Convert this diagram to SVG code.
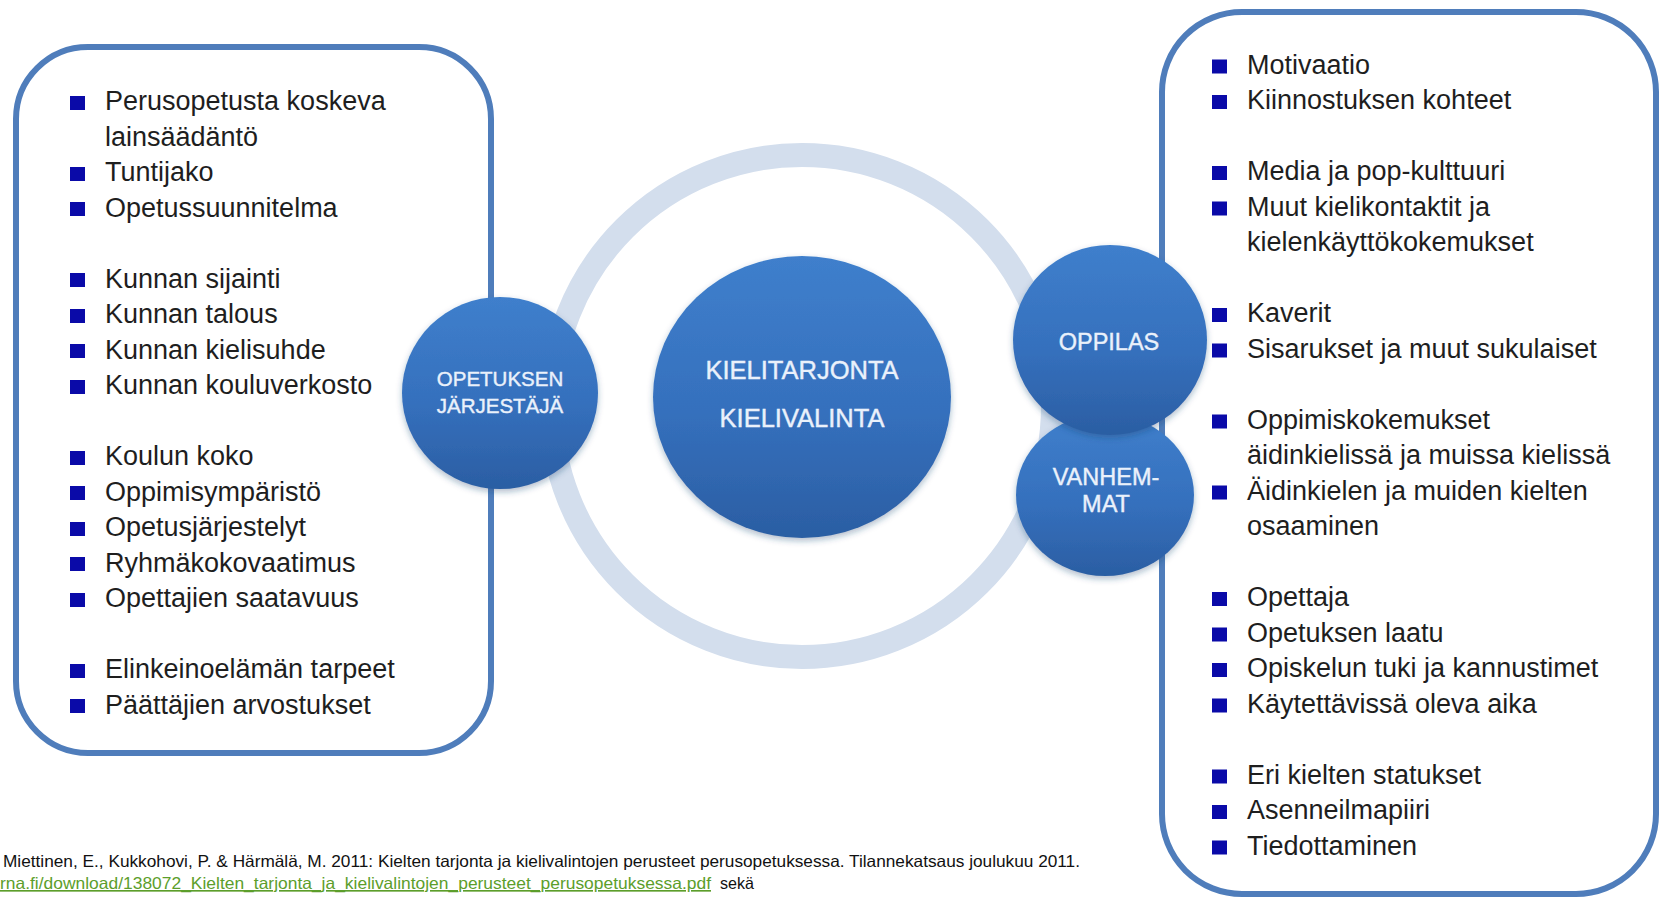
<svg xmlns="http://www.w3.org/2000/svg" width="1660" height="897" viewBox="0 0 1660 897">
<defs>
<linearGradient id="blueFill" x1="0" y1="0" x2="0" y2="1">
<stop offset="0" stop-color="#3f7fcc"/>
<stop offset="0.55" stop-color="#3570bd"/>
<stop offset="1" stop-color="#2b5ea3"/>
</linearGradient>
<filter id="shadow" x="-20%" y="-20%" width="140%" height="145%">
<feDropShadow dx="0" dy="3" stdDeviation="3" flood-color="#1f3f6e" flood-opacity="0.35"/>
</filter>
<style>
.box{fill:#ffffff;stroke:#4f7dbb;stroke-width:6}
.ring{fill:none;stroke:#d3deed;stroke-width:24}
.circ{fill:url(#blueFill);filter:url(#shadow)}
.ctext{font-family:"Liberation Sans",Arial,sans-serif;fill:#eaf1fb;stroke:#eaf1fb;stroke-width:0.4;text-anchor:middle}
.item{font-family:"Liberation Sans",Arial,sans-serif;font-size:27px;fill:#1e1e1e}
.bul{fill:#0a0aa8}
.foot{font-family:"Liberation Sans",Arial,sans-serif;font-size:16.5px;fill:#111111}
.link{font-family:"Liberation Sans",Arial,sans-serif;font-size:16.5px;fill:#5c9e2b;text-decoration:underline}
</style>
</defs>
<rect width="1660" height="897" fill="#ffffff"/>

<g id="connectors">
<circle class="ring" cx="802" cy="406" r="251"/>
</g>

<g id="left-box">
<rect class="box" x="16" y="47" width="475" height="706" rx="72" ry="72"/>
<g class="bul">
<rect x="70" y="96" width="15" height="14"/>
<rect x="70" y="167" width="15" height="14"/>
<rect x="70" y="202" width="15" height="14"/>
<rect x="70" y="273" width="15" height="14"/>
<rect x="70" y="309" width="15" height="14"/>
<rect x="70" y="344" width="15" height="14"/>
<rect x="70" y="380" width="15" height="14"/>
<rect x="70" y="451" width="15" height="14"/>
<rect x="70" y="486" width="15" height="14"/>
<rect x="70" y="522" width="15" height="14"/>
<rect x="70" y="557" width="15" height="14"/>
<rect x="70" y="593" width="15" height="14"/>
<rect x="70" y="664" width="15" height="14"/>
<rect x="70" y="699" width="15" height="14"/>
</g>
<text class="item" x="105" y="110">Perusopetusta koskeva</text>
<text class="item" x="105" y="145.5">lainsäädäntö</text>
<text class="item" x="105" y="181">Tuntijako</text>
<text class="item" x="105" y="216.5">Opetussuunnitelma</text>
<text class="item" x="105" y="287.5">Kunnan sijainti</text>
<text class="item" x="105" y="323">Kunnan talous</text>
<text class="item" x="105" y="358.5">Kunnan kielisuhde</text>
<text class="item" x="105" y="394">Kunnan kouluverkosto</text>
<text class="item" x="105" y="465">Koulun koko</text>
<text class="item" x="105" y="500.5">Oppimisympäristö</text>
<text class="item" x="105" y="536">Opetusjärjestelyt</text>
<text class="item" x="105" y="571.5">Ryhmäkokovaatimus</text>
<text class="item" x="105" y="607">Opettajien saatavuus</text>
<text class="item" x="105" y="678">Elinkeinoelämän tarpeet</text>
<text class="item" x="105" y="713.5">Päättäjien arvostukset</text>
</g>

<g id="right-box">
<rect class="box" x="1162" y="12" width="494" height="882" rx="80" ry="80"/>
<g class="bul">
<rect x="1212" y="59.5" width="15" height="14"/>
<rect x="1212" y="95" width="15" height="14"/>
<rect x="1212" y="166" width="15" height="14"/>
<rect x="1212" y="201.5" width="15" height="14"/>
<rect x="1212" y="308" width="15" height="14"/>
<rect x="1212" y="343.5" width="15" height="14"/>
<rect x="1212" y="414.5" width="15" height="14"/>
<rect x="1212" y="485.5" width="15" height="14"/>
<rect x="1212" y="592" width="15" height="14"/>
<rect x="1212" y="627.5" width="15" height="14"/>
<rect x="1212" y="663" width="15" height="14"/>
<rect x="1212" y="698.5" width="15" height="14"/>
<rect x="1212" y="769.5" width="15" height="14"/>
<rect x="1212" y="805" width="15" height="14"/>
<rect x="1212" y="840.5" width="15" height="14"/>
</g>
<text class="item" x="1247" y="73.5">Motivaatio</text>
<text class="item" x="1247" y="109">Kiinnostuksen kohteet</text>
<text class="item" x="1247" y="180">Media ja pop-kulttuuri</text>
<text class="item" x="1247" y="215.5">Muut kielikontaktit ja</text>
<text class="item" x="1247" y="251">kielenkäyttökokemukset</text>
<text class="item" x="1247" y="322">Kaverit</text>
<text class="item" x="1247" y="357.5">Sisarukset ja muut sukulaiset</text>
<text class="item" x="1247" y="428.5">Oppimiskokemukset</text>
<text class="item" x="1247" y="464">äidinkielissä ja muissa kielissä</text>
<text class="item" x="1247" y="499.5">Äidinkielen ja muiden kielten</text>
<text class="item" x="1247" y="535">osaaminen</text>
<text class="item" x="1247" y="606">Opettaja</text>
<text class="item" x="1247" y="641.5">Opetuksen laatu</text>
<text class="item" x="1247" y="677">Opiskelun tuki ja kannustimet</text>
<text class="item" x="1247" y="712.5">Käytettävissä oleva aika</text>
<text class="item" x="1247" y="783.5">Eri kielten statukset</text>
<text class="item" x="1247" y="819">Asenneilmapiiri</text>
<text class="item" x="1247" y="854.5">Tiedottaminen</text>
</g>

<g id="node-opetuksen-jarjestaja">
<ellipse class="circ" cx="500" cy="393" rx="98" ry="96"/>
<text class="ctext" x="500" y="386" font-size="20.5">OPETUKSEN</text>
<text class="ctext" x="500" y="413" font-size="20.5">JÄRJESTÄJÄ</text>
</g>

<g id="node-kielitarjonta">
<ellipse class="circ" cx="802" cy="397" rx="149" ry="141"/>
<text class="ctext" x="802" y="379" font-size="25.5">KIELITARJONTA</text>
<text class="ctext" x="802" y="427" font-size="25.5">KIELIVALINTA</text>
</g>

<g id="node-vanhemmat">
<ellipse class="circ" cx="1105" cy="495" rx="89" ry="81"/>
<text class="ctext" x="1106" y="485" font-size="23.5">VANHEM-</text>
<text class="ctext" x="1106" y="512" font-size="23.5">MAT</text>
</g>

<g id="node-oppilas">
<ellipse class="circ" cx="1110" cy="340" rx="97" ry="95"/>
<text class="ctext" x="1109" y="350" font-size="23.5">OPPILAS</text>
</g>

<g id="footer">
<text class="foot" x="3" y="867" textLength="1077" lengthAdjust="spacingAndGlyphs">Miettinen, E., Kukkohovi, P. &amp; Härmälä, M. 2011: Kielten tarjonta ja kielivalintojen perusteet perusopetuksessa.  Tilannekatsaus joulukuu 2011.</text>
<text class="link" x="0" y="889" textLength="711" lengthAdjust="spacingAndGlyphs">rna.fi/download/138072_Kielten_tarjonta_ja_kielivalintojen_perusteet_perusopetuksessa.pdf</text>
<text class="foot" x="720" y="889" textLength="34" lengthAdjust="spacingAndGlyphs">sekä</text>
</g>
</svg>
